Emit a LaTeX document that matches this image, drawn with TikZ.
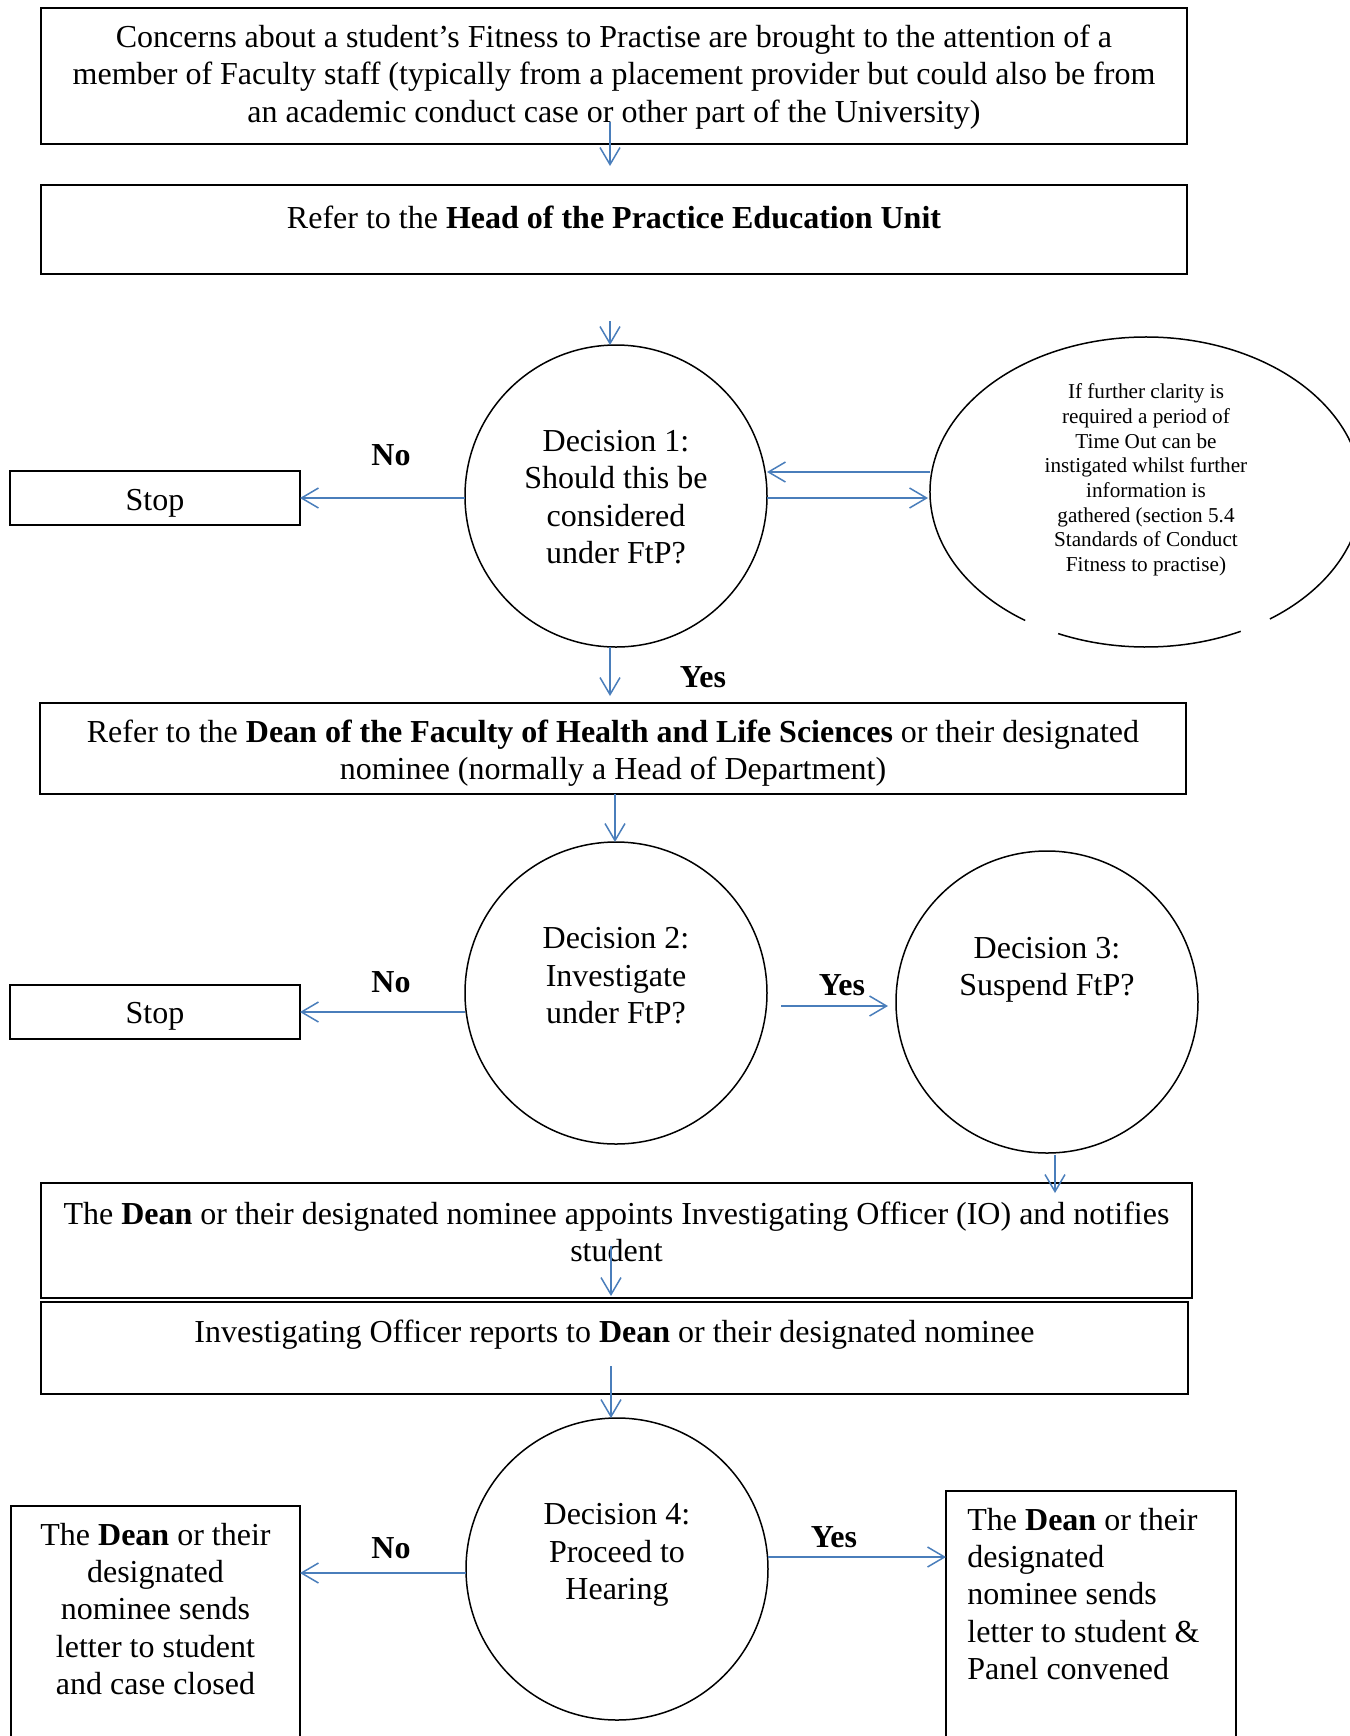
\documentclass[tikz,border=0pt]{standalone}
\usepackage{fontspec}
\setmainfont{Liberation Serif}
\usetikzlibrary{arrows.meta}
\definecolor{arrblue}{RGB}{74,126,187}
\tikzset{
  box/.style={draw=black, line width=1pt, inner sep=0pt, outer sep=0pt},
  dcircle/.style={draw=black, line width=0.75pt, circle, inner sep=0pt, outer sep=0pt, minimum size=151pt},
  txt/.style={align=center, font=\fontsize{16}{18.7}\selectfont, inner sep=0pt},
  lbl/.style={font=\fontsize{16}{18.7}\selectfont\bfseries, inner sep=0pt},
  arr/.style={draw=arrblue, line width=0.75pt, -{Straight Barb[length=8.5pt,width=10pt]}},
}
\begin{document}
\begin{tikzpicture}[x=0.5pt,y=-0.5pt]
\clip (0,0) rectangle (1350,1736);
\useasboundingbox (0,0) rectangle (1350,1736);
% Box 1
\node[box, minimum width=573pt, minimum height=68pt] (b1) at (614,76) {};
\node[txt] (b1t) at (614,77) {Concerns about a student’s Fitness to Practise are brought to the attention of a\\member of Faculty staff (typically from a placement provider but could also be from\\an academic conduct case or other part of the University)};
% Box 2
\node[box, minimum width=573pt, minimum height=44.5pt] (b2) at (614,229.5) {};
\node[txt] (b2t) at (614,217) {Refer to the \textbf{Head of the Practice Education Unit}};
% Decision 1
\node[dcircle] (d1) at (616,496) {};
\node[txt] (d1t) at (616,497) {Decision 1:\\Should this be\\considered\\under FtP?};
% Stop 1
\node[box, minimum width=145pt, minimum height=27pt] (s1) at (155,498) {};
\node[txt] (s1t) at (155,503) {Stop};
\node[lbl] (no1) at (391,455) {No};
% Ellipse
\coordinate (ec) at (1146,492);
\draw[line width=0.75pt] ([shift={(124:216 and 155)}]ec) arc[start angle=124, end angle=415, x radius=216, y radius=155];
\draw[line width=0.75pt] ([shift={(64:216 and 155)}]ec) arc[start angle=64, end angle=114, x radius=216, y radius=155];
\node[align=center, font=\fontsize{10.6}{12.35}\selectfont, inner sep=0pt] (et) at (1146,480) {If further clarity is\\required a period of\\Time Out can be\\instigated whilst further\\information is\\gathered (section 5.4\\Standards of Conduct\\Fitness to practise)};
% Box 3
\node[box, minimum width=573pt, minimum height=45.5pt] (b3) at (613,748.5) {};
\node[txt] (b3t) at (613,753) {Refer to the \textbf{Dean of the Faculty of Health and Life Sciences} or their designated\\nominee (normally a Head of Department)};
\node[lbl] (yes1) at (703,677) {Yes};
% Decision 2
\node[dcircle] (d2) at (616,993) {};
\node[txt] (d2t) at (616,976) {Decision 2:\\Investigate\\under FtP?};
\node[box, minimum width=145pt, minimum height=27pt] (s2) at (155,1012) {};
\node[txt] (s2t) at (155,1016) {Stop};
\node[lbl] (no2) at (391,982) {No};
% Decision 3
\node[dcircle] (d3) at (1047,1002) {};
\node[txt] (d3t) at (1047,970) {Decision 3:\\Suspend FtP?};
\node[lbl] (yes2) at (842,985) {Yes};
% Box 4
\node[box, minimum width=575.5pt, minimum height=57.5pt] (b4) at (616.5,1240.5) {};
\node[txt] (b4t) at (616.5,1232) {The \textbf{Dean} or their designated nominee appoints Investigating Officer (IO) and notifies\\student};
% Box 5
\node[box, minimum width=573.5pt, minimum height=46pt] (b5) at (614.5,1348) {};
\node[txt] (b5t) at (614.5,1335) {Investigating Officer reports to \textbf{Dean} or their designated nominee};
% Decision 4
\node[dcircle] (d4) at (617,1569) {};
\node[txt] (d4t) at (617,1555) {Decision 4:\\Proceed to\\Hearing};
\node[lbl] (no3) at (391,1548) {No};
\node[lbl] (yes3) at (834,1537) {Yes};
% Bottom boxes
\node[box, minimum width=144.5pt, minimum height=130pt] (bl) at (155.5,1636) {};
\node[txt] (blt) at (155.5,1609) {The \textbf{Dean} or their\\designated\\nominee sends\\letter to student\\and case closed};
\node[box, minimum width=145pt, minimum height=137pt] (br) at (1091,1628) {};
\node[align=left, font=\fontsize{16}{18.7}\selectfont, inner sep=0pt, anchor=west] (brt) at (967,1594) {The \textbf{Dean} or their\\designated\\nominee sends\\letter to student \&\\Panel convened};
% Connectors
\coordinate (a1s) at (610,122);
\coordinate (a1e) at (610,166);
\draw[arr] (a1s) -- (a1e);
\coordinate (a2s) at (610,321);
\draw[arr] (a2s) -- (a2s |- d1.north);
\draw[arr] (d1.west |- s1.east) -- (s1.east);
\coordinate (e1) at (930,472);
\coordinate (e2) at (928,498);
\draw[arr] (e1) -- (e1 -| d1.east);
\draw[arr] (d1.east |- e2) -- (e2);
\coordinate (a3e) at (610,696);
\draw[arr] (d1.south -| a3e) -- (a3e);
\coordinate (a4s) at (615,794);
\draw[arr] (a4s) -- (a4s |- d2.north);
\draw[arr] (d2.west |- s2.east) -- (s2.east);
\coordinate (y2s) at (781,1006);
\coordinate (y2e) at (888,1006);
\draw[arr] (y2s) -- (y2e);
\coordinate (a5s) at (1055,1155);
\coordinate (a5e) at (1055,1193);
\draw[arr] (a5s) -- (a5e);
\coordinate (a6s) at (611,1246);
\coordinate (a6e) at (611,1296);
\draw[arr] (a6s) -- (a6e);
\coordinate (a7s) at (611,1366);
\draw[arr] (a7s) -- (a7s |- d4.north);
\coordinate (n3) at (466,1573);
\draw[arr] (n3) -- (n3 -| bl.east);
\coordinate (y3) at (768,1557);
\draw[arr] (y3) -- (y3 -| br.west);
\end{tikzpicture}
\end{document}
